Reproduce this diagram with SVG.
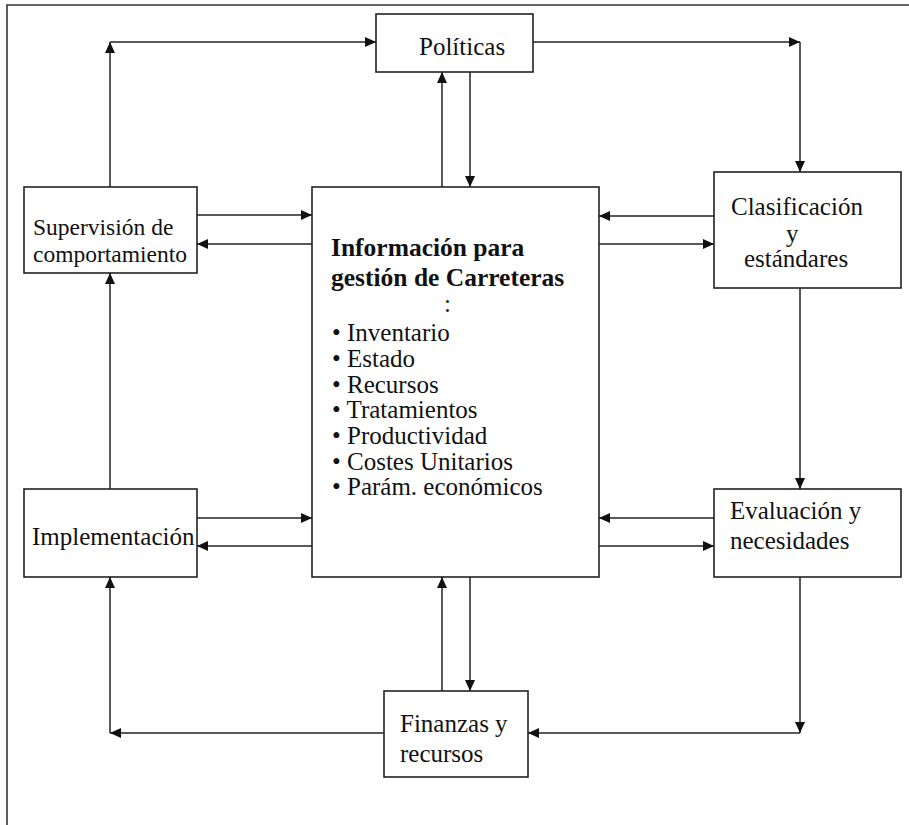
<svg xmlns="http://www.w3.org/2000/svg" width="909" height="825" viewBox="0 0 909 825">
<defs>
<marker id="ah" markerUnits="userSpaceOnUse" markerWidth="11" markerHeight="10" refX="11" refY="5" orient="auto">
<path d="M0,0 L11,5 L0,10 z" fill="#111"/>
</marker>
<style>
.box{fill:#fff;stroke:#222;stroke-width:1.6}
.frame{fill:none;stroke:#333;stroke-width:1.6}
.c{fill:none;stroke:#222;stroke-width:1.5;marker-end:url(#ah)}
text{font-family:"Liberation Serif","Times New Roman",serif;font-size:25px;fill:#111}
.b{font-weight:bold;font-size:25.5px}
</style>
</defs>
<rect width="909" height="825" fill="#fff"/>
<polyline class="frame" points="7,825 7,5 909,5"/>

<g id="connectors">
<path class="c" d="M110,187 V42"/>
<path class="c" d="M110,42 H376"/>
<path class="c" d="M533,42 H800"/>
<path class="c" d="M800,42 V172"/>
<path class="c" d="M442,187 V72"/>
<path class="c" d="M470,72 V187"/>
<path class="c" d="M197,215 H312"/>
<path class="c" d="M312,244 H197"/>
<path class="c" d="M714,216 H599"/>
<path class="c" d="M599,244 H714"/>
<path class="c" d="M110,489 V273"/>
<path class="c" d="M800,288 V489"/>
<path class="c" d="M197,518 H312"/>
<path class="c" d="M312,546 H197"/>
<path class="c" d="M714,518 H599"/>
<path class="c" d="M599,546 H714"/>
<path class="c" d="M442,691 V577"/>
<path class="c" d="M470,577 V691"/>
<path class="c" d="M384,733 H110"/>
<path class="c" d="M110,733 V577"/>
<path class="c" d="M800,577 V733"/>
<path class="c" d="M800,733 H528"/>
</g>

<g id="politicas">
<rect class="box" x="376" y="14" width="157" height="58"/>
<text x="419" y="55">Políticas</text>
</g>

<g id="supervision">
<rect class="box" x="24" y="187" width="173" height="86"/>
<text x="33" y="235" style="font-size:23.5px">Supervisión de</text>
<text x="33" y="262" style="font-size:23.5px">comportamiento</text>
</g>

<g id="informacion">
<rect class="box" x="312" y="187" width="287" height="390"/>
<text class="b" x="331" y="256">Información para</text>
<text class="b" x="331" y="286">gestión de Carreteras</text>
<text x="444" y="312">:</text>
<text x="332" y="341">• Inventario</text>
<text x="332" y="367">• Estado</text>
<text x="332" y="393">• Recursos</text>
<text x="332" y="418">• Tratamientos</text>
<text x="332" y="444">• Productividad</text>
<text x="332" y="470">• Costes Unitarios</text>
<text x="332" y="495">• Parám. económicos</text>
</g>

<g id="clasificacion">
<rect class="box" x="714" y="172" width="187" height="116"/>
<text x="731" y="215">Clasificación</text>
<text x="786" y="242">y</text>
<text x="744" y="267">estándares</text>
</g>

<g id="implementacion">
<rect class="box" x="24" y="489" width="173" height="88"/>
<text x="32" y="545">Implementación</text>
</g>

<g id="evaluacion">
<rect class="box" x="714" y="489" width="187" height="88"/>
<text x="730" y="519">Evaluación y</text>
<text x="730" y="549">necesidades</text>
</g>

<g id="finanzas">
<rect class="box" x="384" y="691" width="144" height="86"/>
<text x="400" y="732">Finanzas y</text>
<text x="400" y="762">recursos</text>
</g>
</svg>
